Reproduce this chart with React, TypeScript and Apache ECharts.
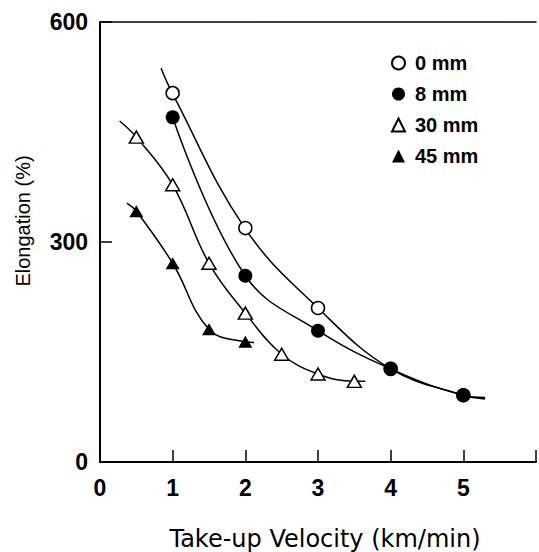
import React, { useEffect, useRef } from "react";
import * as echarts from "echarts";

// Measured points (Take-up velocity km/min, Elongation %)
const velocityA = [1, 2, 3, 4, 5];
const elong0mm = [503, 319, 210, 127, 91];
const elong8mm = [470, 254, 179, 127, 91];
const velocity30 = [0.5, 1, 1.5, 2, 2.5, 3, 3.5];
const elong30mm = [443, 378, 271, 203, 147, 120, 110];
const velocity45 = [0.5, 1, 1.5, 2];
const elong45mm = [342, 271, 181, 164];

// Fitted curves
const curve0X = [0.84, 1, 2, 3, 4, 5, 5.3];
const curve0Y = [537, 502, 318, 210, 127, 91, 86];
const curve8X = [1, 2, 3, 4, 5, 5.3];
const curve8Y = [470, 254, 179, 127, 91, 88];
const curve30X = [0.27, 0.5, 1, 1.5, 2, 2.5, 3, 3.5, 3.65];
const curve30Y = [465, 443, 378, 271, 203, 147, 120, 110, 110];
const curve45X = [0.37, 0.5, 1, 1.5, 2, 2.12];
const curve45Y = [353, 342, 271, 181, 164, 163];

const seriesNames = ["0 mm", "8 mm", "30 mm", "45 mm"];
const xTicks = [0, 1, 2, 3, 4, 5];
const yTicks = [0, 300, 600];

const zip = (xs: number[], ys: number[]) => xs.map((x, i) => [x, ys[i]]);

export default function App() {
  const ref = useRef<HTMLDivElement>(null);
  useEffect(() => {
    document.body.style.margin = "0";
    const chart = echarts.init(ref.current!, null, { renderer: "svg" });
    const font = "Liberation Sans, Arial, sans-serif";
    const lineStyle = { color: "#000", width: 1.5 };
    const curve = (data: number[][]) => ({
      type: "line",
      data,
      smooth: 0.4,
      showSymbol: false,
      symbol: "none",
      lineStyle,
      silent: true,
      z: 1,
    });
    const open = { color: "#fff", borderColor: "#000", borderWidth: 1.5, opacity: 1 };
    const filled = { color: "#000", borderColor: "#000", borderWidth: 0, opacity: 1 };
    chart.setOption({
      animation: false,
      backgroundColor: "#fff",
      grid: { left: 100, right: 0, top: 22, bottom: 90 },
      xAxis: [
        {
          type: "value",
          min: 0,
          max: 6,
          interval: 1,
          axisLine: { show: true, onZero: false, lineStyle: { color: "#000", width: 2 } },
          axisTick: { show: true, inside: true, length: 12, lineStyle: { color: "#000", width: 1.5 } },
          splitLine: { show: false },
          axisLabel: {
            margin: 14,
            fontSize: 23,
            fontWeight: "bold",
            fontFamily: font,
            color: "#000",
            formatter: (v: number) => (xTicks.includes(v) ? String(v) : ""),
          },
        },
        {
          type: "value",
          position: "top",
          min: 0,
          max: 6,
          interval: 1,
          axisLine: { show: true, onZero: false, lineStyle: { color: "#000", width: 1.5 } },
          axisTick: { show: false },
          axisLabel: { show: false },
          splitLine: { show: false },
        },
      ],
      yAxis: {
        type: "value",
        min: 0,
        max: 600,
        interval: 300,
        axisLine: { show: true, onZero: false, lineStyle: { color: "#000", width: 2 } },
        axisTick: { show: true, inside: true, length: 12, lineStyle: { color: "#000", width: 1.5 } },
        splitLine: { show: false },
        axisLabel: {
          margin: 12,
          fontSize: 23,
          fontWeight: "bold",
          fontFamily: font,
          color: "#000",
          formatter: (v: number) => (yTicks.includes(v) ? String(v) : ""),
        },
      },
      legend: {
        orient: "vertical",
        left: 386,
        top: 48,
        itemWidth: 13,
        itemHeight: 13,
        itemGap: 11,
        data: seriesNames,
        textStyle: {
          fontSize: 20,
          fontWeight: "bold",
          fontFamily: font,
          color: "#000",
          padding: [0, 0, 0, 5],
        },
      },
      graphic: [
        {
          type: "text",
          x: 325,
          y: 539,
          style: {
            text: "Take-up Velocity (km/min)",
            fontSize: 24,
            fontFamily: "DejaVu Sans, sans-serif",
            fill: "#000",
            align: "center",
            verticalAlign: "middle",
          },
        },
        {
          type: "text",
          x: 23,
          y: 221,
          rotation: Math.PI / 2,
          style: {
            text: "Elongation (%)",
            fontSize: 20,
            fontFamily: font,
            fill: "#000",
            align: "center",
            verticalAlign: "middle",
          },
        },
      ],
      series: [
        curve(zip(curve0X, curve0Y)),
        curve(zip(curve8X, curve8Y)),
        curve(zip(curve30X, curve30Y)),
        curve(zip(curve45X, curve45Y)),
        {
          name: seriesNames[0],
          type: "scatter",
          symbol: "circle",
          symbolSize: 13,
          itemStyle: open,
          data: zip(velocityA, elong0mm),
          z: 3,
        },
        {
          name: seriesNames[1],
          type: "scatter",
          symbol: "circle",
          symbolSize: 14,
          itemStyle: filled,
          data: zip(velocityA, elong8mm),
          z: 4,
        },
        {
          name: seriesNames[2],
          type: "scatter",
          symbol: "triangle",
          symbolSize: [14, 12],
          itemStyle: open,
          data: zip(velocity30, elong30mm),
          z: 3,
        },
        {
          name: seriesNames[3],
          type: "scatter",
          symbol: "triangle",
          symbolSize: [14, 12],
          itemStyle: filled,
          data: zip(velocity45, elong45mm),
          z: 3,
        },
      ],
    });
    return () => chart.dispose();
  }, []);
  return <div ref={ref} style={{ width: 539, height: 552 }} />;
}
